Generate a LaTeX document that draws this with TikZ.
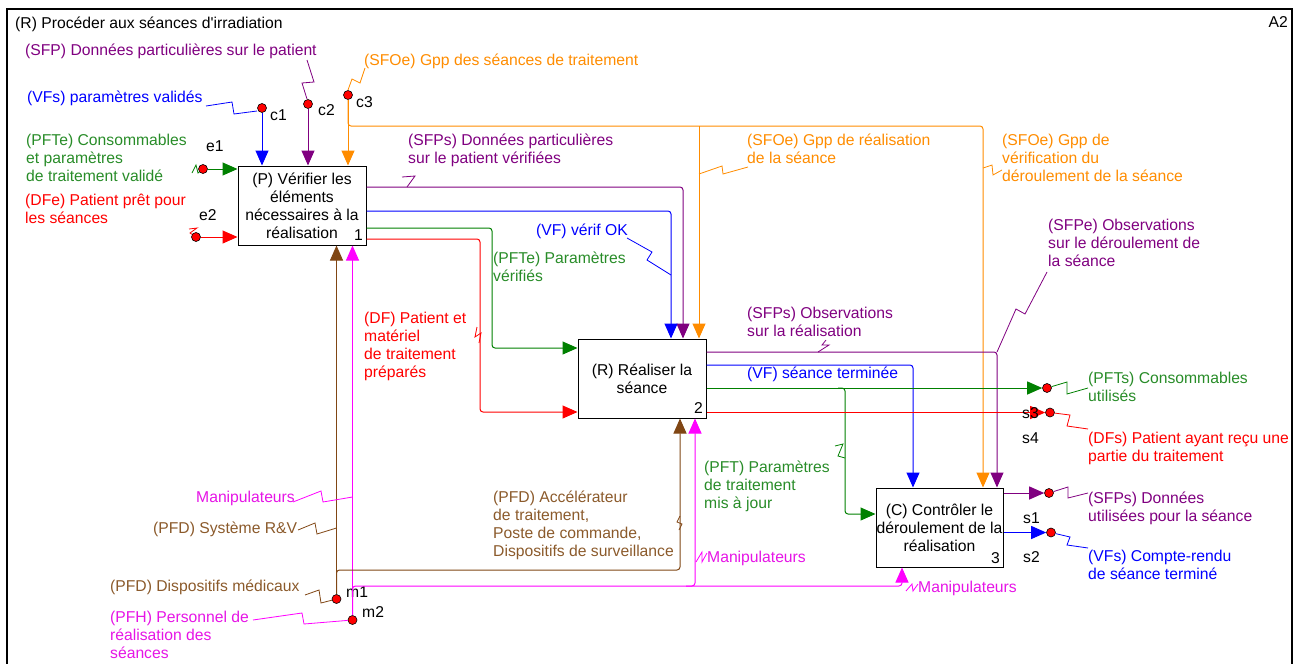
\documentclass[tikz,border=0pt]{standalone}
\usepackage{fontspec}
\setmainfont{Liberation Sans}[Ligatures=TeXOff]
\usetikzlibrary{arrows.meta}
\definecolor{cblue}{RGB}{0,0,255}
\definecolor{cpur}{RGB}{128,0,128}
\definecolor{corg}{RGB}{255,140,0}
\definecolor{cgrn}{RGB}{0,128,0}
\definecolor{cred}{RGB}{255,0,0}
\definecolor{cbrn}{RGB}{128,70,20}
\definecolor{cmag}{RGB}{255,0,255}
\definecolor{tgrn}{RGB}{40,140,40}
\definecolor{tbrn}{RGB}{139,90,43}
\definecolor{tmag}{RGB}{230,20,230}
\newcommand{\ml}[1]{\begin{tabular}[t]{@{}l@{}}#1\end{tabular}}
\begin{document}
\begin{tikzpicture}[x=1pt,y=-1pt,
  every node/.style={font=\fontsize{15.7}{18}\selectfont, inner sep=0pt},
  lbl/.style={anchor=base west},
  box/.style={draw=black, line width=1pt, minimum width=128pt, minimum height=79pt, align=center, inner sep=0pt},
  ln/.style={line width=1pt, rounded corners=3pt},
  ar/.style={ln, -{Triangle[length=15pt,width=13pt]}},
  sq/.style={line width=0.8pt},
  dot/.style={circle, fill=red, draw=black, line width=0.6pt, minimum size=9pt, inner sep=0pt},
]
\useasboundingbox (0,0) rectangle (1299,664);
\clip (0,0) rectangle (1299,664);
\draw[line width=2pt] (7,9) rectangle (1292,690);

% title
\node[lbl] (title) at (15,28) {(R) Procéder aux séances d'irradiation};
\node[anchor=base east] (a2) at (1288,27) {A2};

% boxes
\node[box] (b1) at (302,205.5) {(P) Vérifier les\\éléments\\nécessaires à la\\réalisation};
\node[box] (b2) at (642,378.5) {(R) Réaliser la\\séance};
\node[box, minimum width=127pt] (b3) at (939.5,527.5) {(C) Contrôler le\\déroulement de la\\réalisation};
\node[anchor=base east] (n1) at (363,240) {1};
\node[anchor=base east] (n2) at (703,413) {2};
\node[anchor=base east] (n3) at (1000,563) {3};

% dots
\node[dot] (c1) at (262,108) {};
\node[dot] (c2) at (308,104) {};
\node[dot] (c3) at (348,95) {};
\node[dot] (e1) at (203,169) {};
\node[dot] (e2) at (196,237) {};
\node[dot] (m1) at (336.5,599) {};
\node[dot] (m2) at (352.5,620) {};
\node[dot] (o1) at (1047,388) {};
\node[dot] (o2) at (1050,412.5) {};
\node[dot] (o3) at (1049,493) {};
\node[dot] (o4) at (1051,532.5) {};

% dot labels
\node[lbl] (tc1) at (270,120) {c1};
\node[lbl] (tc2) at (318,115) {c2};
\node[lbl] (tc3) at (356,107) {c3};
\node[lbl] (te1) at (206,151) {e1};
\node[lbl] (te2) at (199,220) {e2};
\node[lbl] (tm1) at (346,597) {m1};
\node[lbl] (tm2) at (362,617) {m2};
\node[lbl] (ts4) at (1022,443) {s4};
\node[lbl] (ts1) at (1023,523) {s1};
\node[lbl] (ts2) at (1023,562) {s2};

% labels
\node[lbl,text=cpur] (lsfp) at (25,55) {(SFP) Données particulières sur le patient};
\node[lbl,text=cblue] (lvfs) at (27,102) {(VFs) paramètres validés};
\node[lbl,text=corg] (lsfoe1) at (364,65) {(SFOe) Gpp des séances de traitement};
\node[lbl,text=tgrn] (lpfte) at (26,145) {\ml{(PFTe) Consommables\\et paramètres\\de traitement validé}};
\node[lbl,text=cred] (ldfe) at (25,205) {\ml{(DFe) Patient prêt pour\\les séances}};
\node[lbl,text=cpur] (lsfps1) at (408,145) {\ml{(SFPs) Données particulières\\sur le patient vérifiées}};
\node[lbl,text=corg] (lsfoe2) at (747,145) {\ml{(SFOe) Gpp de réalisation\\de la séance}};
\node[lbl,text=corg] (lsfoe3) at (1002,145) {\ml{(SFOe) Gpp de\\vérification du\\déroulement de la séance}};
\node[lbl,text=cblue] (lvf1) at (536,235) {(VF) vérif OK};
\node[lbl,text=tgrn] (lpfte2) at (493,263) {\ml{(PFTe) Paramètres\\vérifiés}};
\node[lbl,text=cred] (ldf) at (364,323) {\ml{(DF) Patient et\\matériel\\de traitement\\préparés}};
\node[lbl,text=cpur] (lsfps2) at (747,318) {\ml{(SFPs) Observations\\sur la réalisation}};
\node[lbl,text=cblue] (lvf2) at (747,378) {(VF) séance terminée};
\node[lbl,text=cpur] (lsfpe) at (1048,230) {\ml{(SFPe) Observations\\sur le déroulement de\\la séance}};
\node[lbl,text=tgrn] (lpfts) at (1088,383) {\ml{(PFTs) Consommables\\utilisés}};
\node[lbl,text=cred] (ldfs) at (1088,443) {\ml{(DFs) Patient ayant reçu une\\partie du traitement}};
\node[lbl,text=tgrn] (lpft) at (704,472) {\ml{(PFT) Paramètres\\de traitement\\mis à jour}};
\node[lbl,text=cpur] (lsfps3) at (1088,503) {\ml{(SFPs) Données\\utilisées pour la séance}};
\node[lbl,text=cblue] (lvfs2) at (1088,561) {\ml{(VFs) Compte-rendu\\de séance terminé}};
\node[lbl,text=tbrn] (lpfd1) at (493,502) {\ml{(PFD) Accélérateur\\de traitement,\\Poste de commande,\\Dispositifs de surveillance}};
\node[lbl,text=tmag] (lman2) at (707,562) {Manipulateurs};
\node[lbl,text=tmag] (lman3) at (918,592) {Manipulateurs};
\node[lbl,text=tmag] (lman1) at (196,502) {Manipulateurs};
\node[lbl,text=tbrn] (lpfd2) at (153,533) {(PFD) Système R\&V};
\node[lbl,text=tbrn] (lpfd3) at (110,591) {(PFD) Dispositifs médicaux};
\node[lbl,text=tmag] (lpfh) at (110,622) {\ml{(PFH) Personnel de\\réalisation des\\séances}};

% controls box 1
\draw[ar,cblue] (c1) -- (c1 |- b1.north);
\draw[ar,cpur] (c2) -- (c2 |- b1.north);
\draw[ar,corg] (c3) -- (c3 |- b1.north);
\draw[ar,corg] (c3) |- (983,126) -- (b3.north -| 983,0);
\draw[ar,corg] (699,126) -- (b2.north -| 699,0);

% inputs box 1
\draw[ar,cgrn] (e1) -- (e1 -| b1.west);
\draw[ar,cred] (e2) -- (e2 -| b1.west);

% mechanisms
\draw[ar,cbrn] (m1) -- (m1 |- b1.south);
\draw[ar,cmag] (m2) -- (m2 |- b1.south);
\draw[ar,cbrn] (m1) |- (680,570) -- (b2.south -| 680,0);
\draw[ar,cmag] (m2) |- (902,586) -- (b3.south -| 902,0);
\draw[ar,cmag] (686,586) -| (b2.south -| 695,0);

% outputs box 1
\draw[ar,cpur] (b1.east |- 0,187) -| (b2.north -| 683,0);
\draw[ar,cblue] (b1.east |- 0,211) -| (b2.north -| 671,0);
\draw[ar,cgrn] (b1.east |- 0,228) -| (492,300) |- (b2.west |- 0,348);
\draw[ar,cred] (b1.east |- 0,239) -| (480,300) |- (b2.west |- 0,412);

% outputs box 2
\draw[ar,cpur] (b2.east |- 0,352) -| (b3.north -| 997,0);
\draw[ar,cblue] (b2.east |- 0,365) -| (b3.north -| 913,0);
\draw[ar,cgrn] (b2.east |- 0,388) -- (o1);
\draw[ar,cgrn] (838,388) -| (845,450) |- (b3.west |- 0,514);
\draw[ar,cred] (b2.east |- 0,412.5) -- (o2);

% outputs box 3
\draw[ar,cpur] (b3.east |- 0,493) -- (o3);
\draw[ar,cblue] (b3.east |- 0,532.5) -- (o4);

% label drawn over the red arrowhead
\node[lbl] (ts3) at (1022,418) {s3};

% squiggles
\draw[sq,cblue] (206,106) -- (232,102) -- (234,114) -- (257,111);
\draw[sq,cpur] (307,60) -- (314,82) -- (302,83) -- (307,99);
\draw[sq,corg] (365,68) -- (360,83) -- (352,79) -- (348,90);
\draw[sq,cpur] (402,177) -- (415,176) -- (407,187);
\draw[sq,corg] (748,167) -- (723,174) -- (722,166) -- (699,174);
\draw[sq,corg] (1002,170) -- (993,175) -- (992,165) -- (983,168);
\draw[sq,cblue] (627,238) -- (652,252) -- (647,260) -- (671,275);
\draw[sq,cred] (477,327) -- (475,337) -- (481,333) -- (479,343);
\draw[sq,cpur] (818,352) -- (829,345) -- (822,345) -- (826,340);
\draw[sq,cpur] (1047,272) -- (1025,314) -- (1016,309) -- (997,352);
\draw[sq,cgrn] (o1) -- (1067,382) -- (1067,394) -- (1088,388);
\draw[sq,cred] (o2) -- (1070,415) -- (1067,426) -- (1088,429);
\draw[sq,cgrn] (835,446) -- (843,444) -- (838,456) -- (845,458);
\draw[sq,cpur] (o3) -- (1068,487) -- (1068,498) -- (1088,493);
\draw[sq,cblue] (o4) -- (1070,537) -- (1067,545) -- (1088,548);
\draw[sq,cmag] (696,562) -- (702,552) -- (702,562) -- (707,553);
\draw[sq,cmag] (906,591) -- (912,584) -- (913,591) -- (918,584);
\draw[sq,cbrn] (680,516) -- (677,522) -- (682,524) -- (679,530);
\draw[sq,cmag] (293,502) -- (321,491) -- (323,502) -- (352.5,497);
\draw[sq,cbrn] (298,530) -- (315,523) -- (317,534) -- (336.5,528);
\draw[sq,cbrn] (305,595) -- (319,590) -- (321,603) -- (m1);
\draw[sq,cmag] (253,620) -- (302,613) -- (304,624) -- (m2);
\draw[sq,cgrn] (192,173) -- (196,165) -- (198,173) -- (e1);
\draw[sq,cred] (189,229) -- (197,228) -- (190,233) -- (e2);
\end{tikzpicture}
\end{document}
